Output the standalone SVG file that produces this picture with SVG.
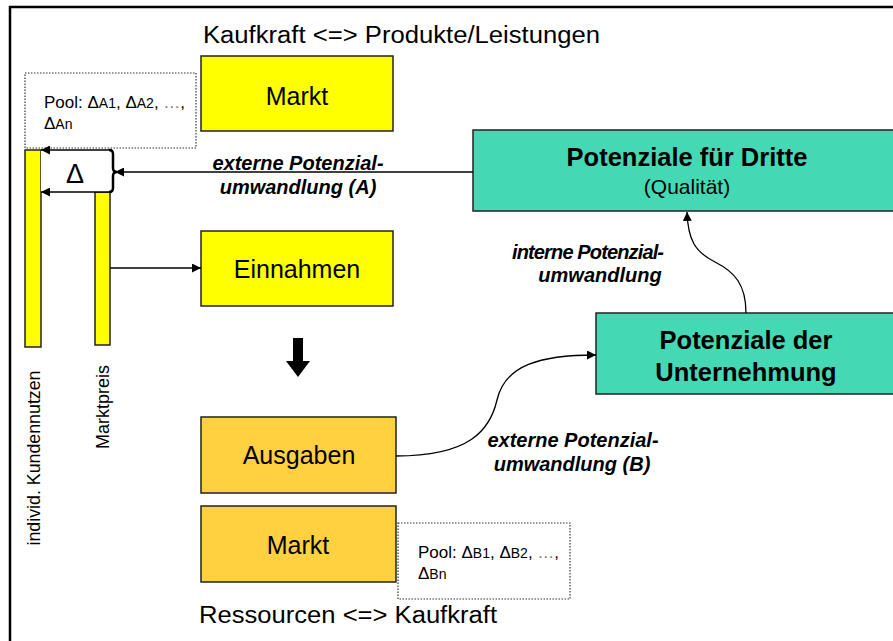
<svg xmlns="http://www.w3.org/2000/svg" width="893" height="641" viewBox="0 0 893 641">
  <defs>
    <marker id="arr" viewBox="0 0 10 10" refX="10" refY="5" markerWidth="9" markerHeight="9" markerUnits="userSpaceOnUse" orient="auto">
      <path d="M0,0 L10,5 L0,10 z" fill="#000"/>
    </marker>
    <style>
      text { font-family: "Liberation Sans", Arial, sans-serif; fill: #000; }
      .box { stroke: #222; stroke-width: 1.5; }
      .yel { fill: #FFFF00; }
      .gold { fill: #FFD040; }
      .teal { fill: #44D9B4; }
      .pool { fill: #fff; stroke: #333; stroke-width: 1.2; stroke-dasharray: 1.5 1.5; }
      .lbl { font-size: 25px; text-anchor: middle; }
      .big { font-size: 25.5px; font-weight: bold; text-anchor: middle; }
      .conv { font-size: 20px; font-weight: bold; font-style: italic; text-anchor: middle; }
      .pt { font-size: 17px; }
      .sub { font-size: 14px; }
      .line { fill: none; stroke: #000; stroke-width: 1.3; }
    </style>
  </defs>

  <!-- outer frame (left and top edges) -->
  <path d="M10,641 L10,7 L893,7" fill="none" stroke="#000" stroke-width="2.5"/>

  <!-- headings -->
  <text x="203" y="43" font-size="23" textLength="397" lengthAdjust="spacingAndGlyphs">Kaufkraft &lt;=&gt; Produkte/Leistungen</text>
  <text x="199" y="623" font-size="23" textLength="298" lengthAdjust="spacingAndGlyphs">Ressourcen &lt;=&gt; Kaufkraft</text>

  <g id="markt-oben">
    <rect class="box yel" x="201" y="56" width="192" height="75"/>
    <text class="lbl" x="297" y="105">Markt</text>
  </g>

  <g id="pool-a">
    <rect class="pool" x="25" y="73" width="171" height="75"/>
    <text class="pt" x="44" y="108">Pool: Δ<tspan class="sub">A1</tspan>, Δ<tspan class="sub">A2</tspan>, <tspan fill="#777">…</tspan>,</text>
    <text class="pt" x="44" y="129">Δ<tspan class="sub">An</tspan></text>
  </g>

  <g id="kundennutzen">
    <rect class="box yel" x="25" y="150" width="16" height="197"/>
    <text x="40" y="458" font-size="17.8" text-anchor="middle" transform="rotate(-90 40 458)">individ. Kundennutzen</text>
  </g>

  <g id="marktpreis">
    <rect class="box yel" x="95" y="192" width="15" height="153"/>
    <text x="109" y="407" font-size="18" text-anchor="middle" transform="rotate(-90 109 407)">Marktpreis</text>
  </g>

  <g id="delta">
    <rect x="41" y="150" width="71" height="42" fill="#fff"/>
    <text x="75" y="183" font-size="27" text-anchor="middle">Δ</text>
    <path d="M109,150 Q113,150 113,154 L113,168 Q113,172 117,172 Q113,172 113,176 L113,188 Q113,192 109,192" fill="none" stroke="#000" stroke-width="2.5"/>
  </g>

  <g id="einnahmen">
    <rect class="box yel" x="201" y="231" width="192" height="75"/>
    <text class="lbl" x="297" y="278">Einnahmen</text>
  </g>

  <g id="ausgaben">
    <rect class="box gold" x="201" y="417" width="195" height="76"/>
    <text class="lbl" x="299" y="464">Ausgaben</text>
  </g>

  <g id="markt-unten">
    <rect class="box gold" x="201" y="506" width="195" height="76"/>
    <text class="lbl" x="298" y="554">Markt</text>
  </g>

  <g id="pool-b">
    <rect class="pool" x="398" y="523" width="172" height="76"/>
    <text class="pt" x="418" y="558">Pool: Δ<tspan class="sub">B1</tspan>, Δ<tspan class="sub">B2</tspan>, <tspan fill="#777">…</tspan>,</text>
    <text class="pt" x="418" y="579">Δ<tspan class="sub">Bn</tspan></text>
  </g>

  <g id="potenziale-dritte">
    <rect class="box teal" x="473" y="130" width="422" height="81"/>
    <text class="big" x="687" y="166" font-size="24">Potenziale für Dritte</text>
    <text x="687" y="194" font-size="21" text-anchor="middle">(Qualität)</text>
  </g>

  <g id="potenziale-unternehmung">
    <rect class="box teal" x="596" y="313" width="299" height="81"/>
    <text class="big" x="746" y="349">Potenziale der</text>
    <text class="big" x="746" y="381">Unternehmung</text>
  </g>

  <g id="connectors">
    <!-- Δ box edges pointing to the customer-value bar -->
    <line class="line" x1="112" y1="150" x2="41" y2="150" marker-end="url(#arr)"/>
    <line class="line" x1="112" y1="192" x2="41" y2="192" marker-end="url(#arr)"/>
    <!-- external conversion A -->
    <line class="line" x1="473" y1="172" x2="115" y2="172" marker-end="url(#arr)"/>
    <!-- market price to revenue -->
    <line class="line" x1="110" y1="268" x2="201" y2="268" marker-end="url(#arr)"/>
    <!-- external conversion B -->
    <path class="line" d="M396,456 C470,456 490,430 497,400 C505,365 540,355 596,355" marker-end="url(#arr)"/>
    <!-- internal conversion -->
    <path class="line" d="M746,313 C746,285 735,272 715,262 C695,252 688,240 687,212" marker-end="url(#arr)"/>
    <!-- big down arrow -->
    <path d="M293,338 L303,338 L303,361 L310,361 L298,377 L286,361 L293,361 Z" fill="#000"/>
  </g>

  <g id="labels">
    <text class="conv" x="298" y="170">externe Potenzial-</text>
    <text class="conv" x="298" y="194">umwandlung (A)</text>
    <text class="conv" x="588" y="259" textLength="152" lengthAdjust="spacing">interne Potenzial-</text>
    <text class="conv" x="600" y="282">umwandlung</text>
    <text class="conv" x="573" y="447">externe Potenzial-</text>
    <text class="conv" x="572" y="471">umwandlung (B)</text>
  </g>
</svg>
